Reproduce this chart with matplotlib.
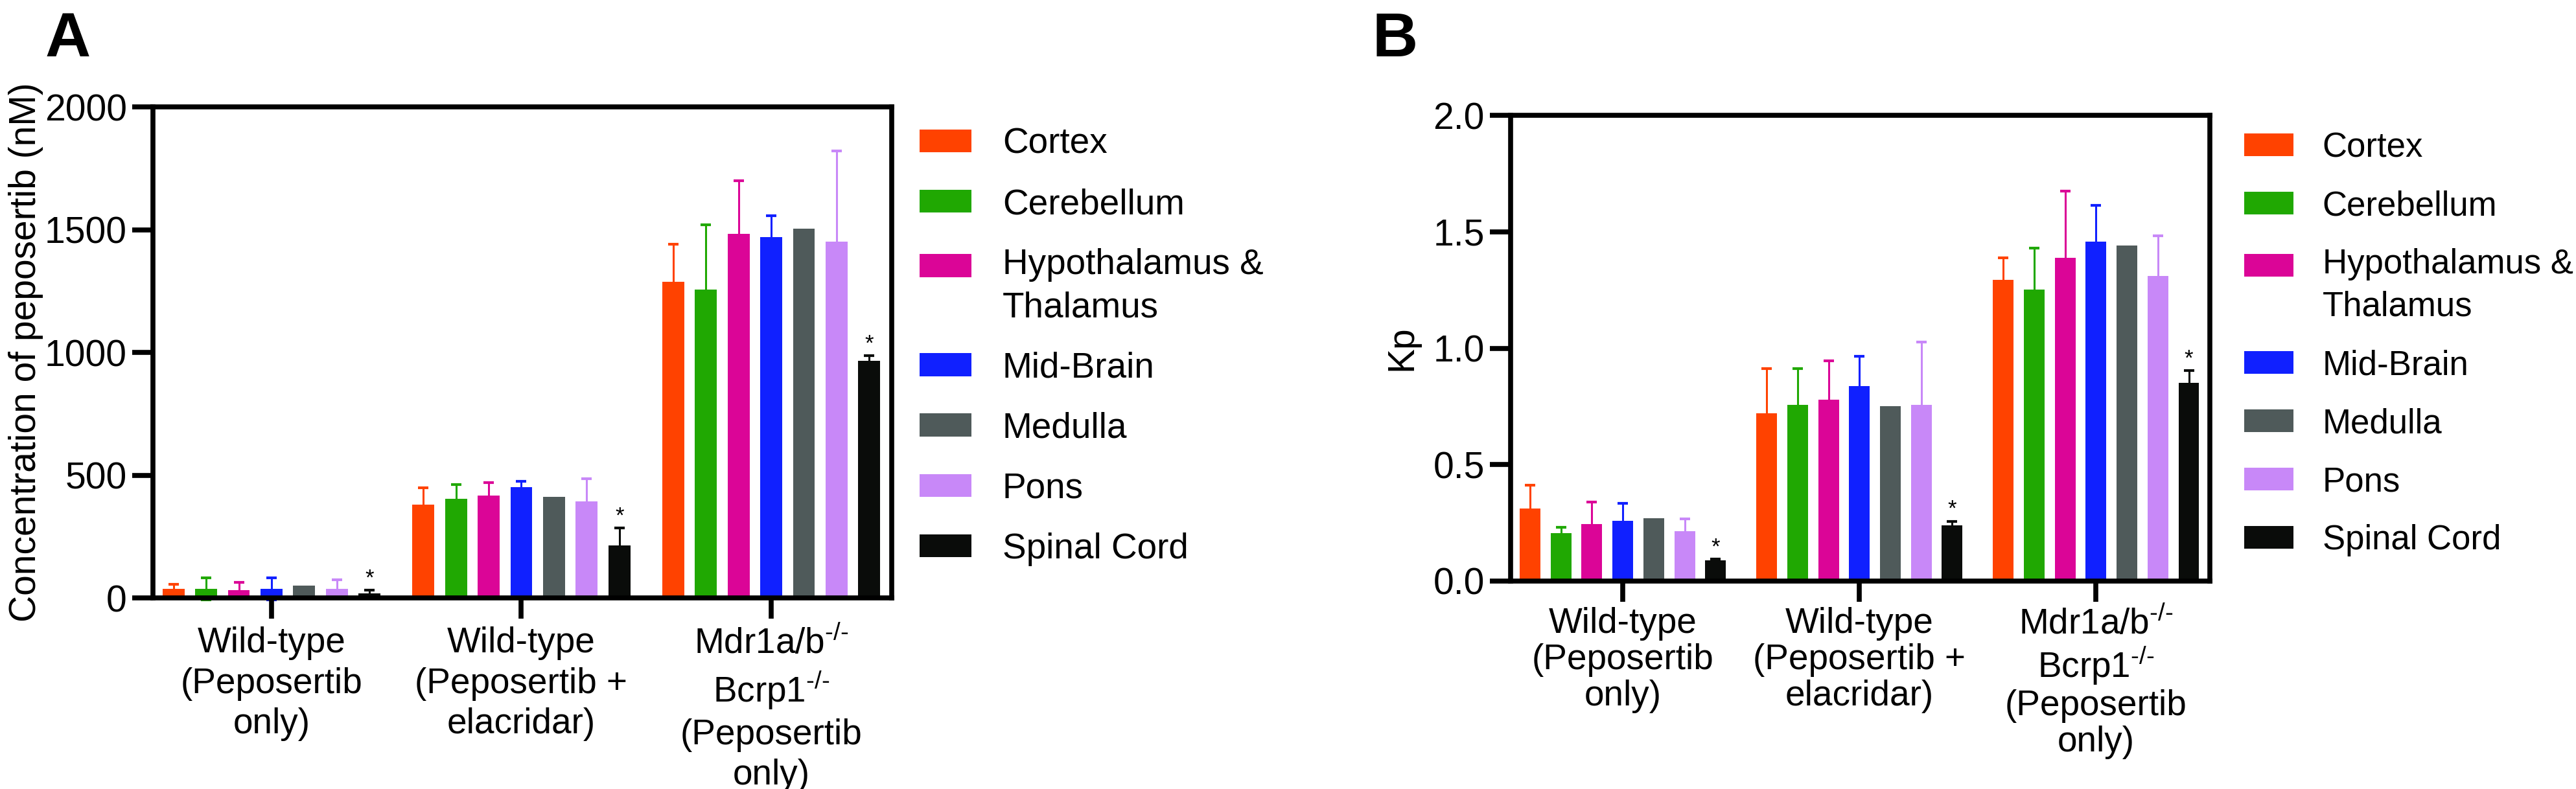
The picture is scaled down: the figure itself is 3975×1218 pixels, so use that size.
import numpy as np
import matplotlib
matplotlib.use('Agg')
import matplotlib.pyplot as plt
from matplotlib.patches import Patch
from matplotlib.legend_handler import HandlerPatch

plt.rcParams['font.family'] = ['Liberation Sans', 'DejaVu Sans']
plt.rcParams['mathtext.fontset'] = 'custom'
plt.rcParams['mathtext.rm'] = 'Liberation Sans'
plt.rcParams['mathtext.it'] = 'Liberation Sans:italic'
plt.rcParams['mathtext.bf'] = 'Liberation Sans:bold'

# brain regions (legend order)
regions = ['Cortex', 'Cerebellum', 'Hypothalamus &\nThalamus', 'Mid-Brain',
           'Medulla', 'Pons', 'Spinal Cord']
colors = ['#FF4200', '#20A802', '#DB0597', '#1020FF', '#4F5A5A', '#C888F8', '#0A0C0A']

groups = ['Wild-type\n(Peposertib\nonly)',
          'Wild-type\n(Peposertib +\nelacridar)',
          'Mdr1a/b$^{\\text{-/-}}$\nBcrp1$^{\\text{-/-}}$\n(Peposertib\nonly)']

# panel A: concentration of peposertib (nM), rows = groups, cols = regions
conc_mean = np.array([
    [37, 37, 31, 37, 51, 37, 18],
    [380, 405, 416, 450, 411, 394, 215],
    [1288, 1255, 1484, 1471, 1503, 1452, 967],
])
conc_sd = np.array([
    [19, 46, 33, 46, np.nan, 37, 13],
    [69, 58, 55, 24, np.nan, 92, 70],
    [152, 264, 216, 87, np.nan, 368, 20],
])

# panel B: Kp
kp_mean = np.array([
    [0.312, 0.206, 0.246, 0.259, 0.270, 0.215, 0.088],
    [0.720, 0.757, 0.780, 0.836, 0.750, 0.757, 0.239],
    [1.294, 1.253, 1.388, 1.457, 1.441, 1.309, 0.851],
])
kp_sd = np.array([
    [0.099, 0.026, 0.094, 0.075, np.nan, 0.052, 0.007],
    [0.192, 0.155, 0.165, 0.130, np.nan, 0.269, 0.018],
    [0.094, 0.177, 0.286, 0.157, np.nan, 0.175, 0.052],
])

conc_ticks = [0, 500, 1000, 1500, 2000]
kp_ticks = [0.0, 0.5, 1.0, 1.5, 2.0]

BAR_W = 0.67
GROUP_STEP = 7.65
LW = 5.5


class RaisedPatch(HandlerPatch):
    # lift the legend swatch so it sits beside the middle of a two-line label
    def __init__(self, lift=0.0, **kw):
        super().__init__(**kw)
        self.lift = lift

    def create_artists(self, legend, orig_handle, xdescent, ydescent,
                       width, height, fontsize, trans):
        return super().create_artists(legend, orig_handle, xdescent,
                                      ydescent - self.lift * fontsize,
                                      width, height, fontsize, trans)


def draw_panel(ax, means, sds, ymax, ticks, tick_fmt, xls, xpad):
    x0 = np.arange(len(groups)) * GROUP_STEP
    for i, col in enumerate(colors):
        x = x0 + (i - 3)
        ax.bar(x, means[:, i], BAR_W, color=col, zorder=1)
        ax.errorbar(x, means[:, i], yerr=sds[:, i], fmt='none', ecolor=col,
                    elinewidth=2.2, capsize=5.8, capthick=3, clip_on=False,
                    zorder=1.5)
    # significance marks over spinal cord
    xs = x0 + 3
    for xx, m, s in zip(xs, means[:, 6], sds[:, 6]):
        ax.annotate('*', (xx, m + s), xytext=(0, 13), textcoords='offset points',
                    ha='center', va='center', fontsize=25)

    ax.set_xlim(-3.63, 2 * GROUP_STEP + 3.69)
    ax.set_ylim(0, ymax)
    ax.set_xticks(x0)
    ax.set_xticklabels(groups, fontsize=39.5, linespacing=xls)
    ax.set_yticks(ticks)
    ax.set_yticklabels([tick_fmt.format(t) for t in ticks], fontsize=41)
    for sp in ax.spines.values():
        sp.set_linewidth(LW)
    ax.tick_params(axis='both', width=LW, length=23, direction='out')
    ax.tick_params(axis='y', pad=6)
    ax.tick_params(axis='x', pad=xpad)


fig = plt.figure(figsize=(39.75, 12.18), dpi=100)

axA = fig.add_axes([0.05937, 0.2422, 0.2868, 0.6223])
draw_panel(axA, conc_mean, conc_sd, 2000, conc_ticks, '{:d}', 1.26, 9)
axA.set_ylabel('Concentration of peposertib (nM)', fontsize=41)
axA.yaxis.set_label_coords(-0.148, 0.5)

axB = fig.add_axes([0.5864, 0.26355, 0.27157, 0.5903])
draw_panel(axB, kp_mean, kp_sd, 2.0, kp_ticks, '{:.1f}', 1.1, 6)
axB.set_ylabel('Kp', fontsize=41)
axB.yaxis.set_label_coords(-0.1306, 0.5)

legend_opts = [
    # axes, anchor, fontsize, handlelength, textpad, labelspacing, 2-line spacing, lift
    (axA, (1.0377, 0.958), 39.5, 1.46, 0.87, 0.75, 1.35, 0.60),
    (axB, (1.049, 0.965), 38, 1.44, 0.84, 0.76, 1.40, 0.62),
]
for ax, anchor, fs, hlen, tpad, lsp, ls2, lift in legend_opts:
    handles = [Patch(facecolor=c, edgecolor='none') for c in colors]
    leg = ax.legend(handles, regions, loc='upper left', bbox_to_anchor=anchor,
                    frameon=False, fontsize=fs, borderpad=0, borderaxespad=0,
                    handlelength=hlen, handleheight=34 / (fs * 100 / 72),
                    handletextpad=tpad, labelspacing=lsp,
                    handler_map={handles[2]: RaisedPatch(lift=lift)})
    leg.get_texts()[2].set_linespacing(ls2)

fig.text(70 / 3975, 1 - 87 / 1218, 'A', fontsize=70, fontweight='bold',
         ha='left', va='baseline')
fig.text(2118 / 3975, 1 - 87 / 1218, 'B', fontsize=70, fontweight='bold',
         ha='left', va='baseline')

fig.savefig('out.png', dpi=100)
